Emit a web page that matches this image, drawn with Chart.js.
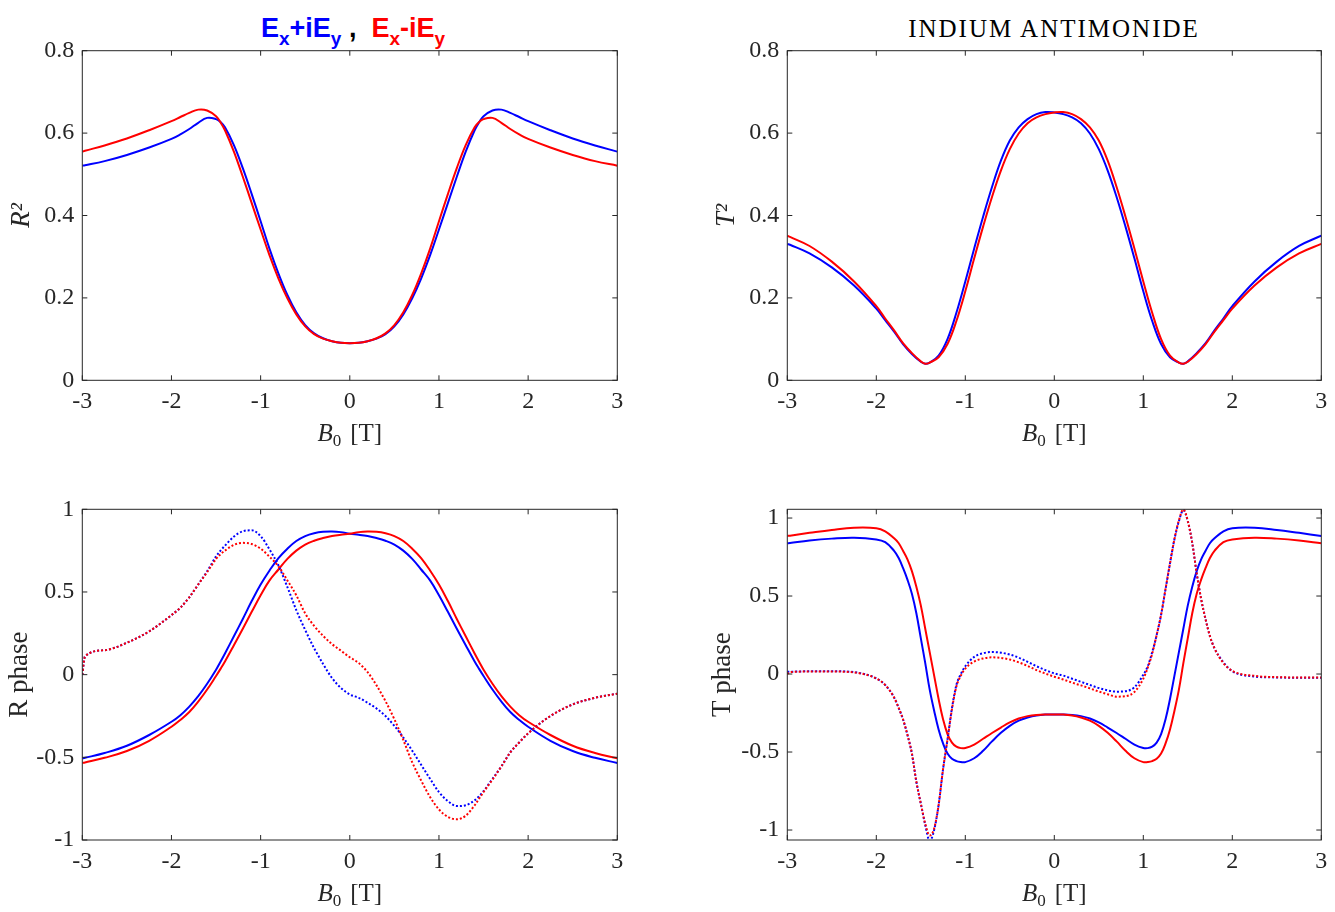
<!DOCTYPE html>
<html>
<head>
<meta charset="utf-8">
<script src="https://cdn.jsdelivr.net/npm/chart.js@4.4.1/dist/chart.umd.min.js"></script>
<style>
  html, body { margin:0; padding:0; background:#ffffff; }
  body { width:1335px; height:912px; position:relative; overflow:hidden; }
  canvas { position:absolute; }
  .ttl { position:absolute; text-align:center; white-space:nowrap; }
  .xt { position:absolute; width:200px; text-align:center; white-space:nowrap;
        font-family:"Liberation Serif", serif; font-size:25px; line-height:25px; color:#262626; }
  .xt sub { font-size:17px; vertical-align:-5px; line-height:0; }
  .xt .sp { display:inline-block; width:9px; }
  #ttlA { left:153px; top:15px; width:400px; font-family:"Liberation Sans", Arial, sans-serif;
          font-weight:bold; font-size:27px; line-height:27px; }
  #ttlA sub { font-size:19px; vertical-align:-8px; line-height:0; }
  #ttlB { left:854px; top:16px; width:400px; font-family:"Liberation Serif", serif;
          font-size:25px; line-height:25px; letter-spacing:2px; color:#000; }
</style>
</head>
<body>
<div id="ttlA" class="ttl"><span style="color:#0000ff">E<sub>x</sub>+iE<sub>y</sub></span><span style="color:#000">&nbsp;,&nbsp;&nbsp;</span><span style="color:#ff0000">E<sub>x</sub>-iE<sub>y</sub></span></div>
<div id="ttlB" class="ttl">INDIUM ANTIMONIDE</div>

<canvas id="cTL" width="667" height="460" style="left:0px;top:0px"></canvas>
<canvas id="cTR" width="630" height="460" style="left:705px;top:0px"></canvas>
<canvas id="cBL" width="667" height="452" style="left:0px;top:460px"></canvas>
<canvas id="cBR" width="630" height="452" style="left:705px;top:460px"></canvas>

<div class="xt" style="left:249.8px;top:420px"><i>B</i><sub>0</sub><span class="sp"></span>[T]</div>
<div class="xt" style="left:954.3px;top:420px"><i>B</i><sub>0</sub><span class="sp"></span>[T]</div>
<div class="xt" style="left:249.8px;top:879.6px"><i>B</i><sub>0</sub><span class="sp"></span>[T]</div>
<div class="xt" style="left:954.3px;top:879.6px"><i>B</i><sub>0</sub><span class="sp"></span>[T]</div>

<script>
// ---------------- DATA ----------------
const X_TICKS = [-3, -2, -1, 0, 1, 2, 3];
const Y_TICKS_SQ = [0, 0.2, 0.4, 0.6, 0.8];
const Y_TICKS_PH = [-1, -0.5, 0, 0.5, 1];

// Magnetic field grid used for R^2, T^2 and R phase
const B_GRID = [-3,-2.97,-2.75,-2.5,-2.25,-2,-1.9,-1.8,-1.7,-1.6,-1.5,-1.45,-1.4,-1.3,-1.2,-1.1,-1,-0.9,-0.8,-0.7,-0.6,-0.5,-0.4,-0.3,-0.2,-0.1,0,0.1,0.2,0.3,0.4,0.5,0.6,0.7,0.8,0.9,1,1.1,1.2,1.3,1.4,1.45,1.5,1.6,1.7,1.8,1.9,2,2.25,2.5,2.75,3];

// R^2  (E_x+iE_y : blue, E_x-iE_y : red)
const R2_PLUS  = [0.521,0.522,0.532,0.547,0.565,0.586,0.597,0.610,0.625,0.637,0.634,0.627,0.614,0.571,0.515,0.452,0.386,0.319,0.259,0.207,0.165,0.134,0.114,0.102,0.095,0.091,0.090,0.091,0.095,0.101,0.112,0.131,0.160,0.199,0.247,0.303,0.366,0.430,0.494,0.555,0.607,0.626,0.641,0.655,0.657,0.649,0.639,0.629,0.607,0.587,0.570,0.555];
const R2_MINUS = [0.555,0.557,0.570,0.587,0.607,0.629,0.639,0.649,0.657,0.655,0.641,0.626,0.607,0.555,0.494,0.430,0.366,0.303,0.247,0.199,0.160,0.131,0.112,0.101,0.095,0.091,0.090,0.091,0.095,0.102,0.114,0.134,0.165,0.207,0.259,0.319,0.386,0.452,0.515,0.571,0.614,0.627,0.634,0.637,0.625,0.610,0.597,0.586,0.565,0.547,0.532,0.521];

// T^2
const T2_PLUS  = [0.331,0.329,0.308,0.274,0.230,0.174,0.146,0.118,0.088,0.064,0.045,0.040,0.043,0.060,0.100,0.164,0.240,0.320,0.397,0.469,0.533,0.582,0.614,0.634,0.646,0.651,0.650,0.646,0.638,0.624,0.599,0.561,0.509,0.445,0.373,0.296,0.216,0.144,0.088,0.056,0.043,0.040,0.046,0.066,0.090,0.121,0.150,0.180,0.240,0.288,0.326,0.351];
const T2_MINUS = [0.351,0.348,0.326,0.288,0.240,0.180,0.150,0.121,0.090,0.066,0.046,0.040,0.043,0.056,0.088,0.144,0.216,0.296,0.373,0.445,0.509,0.561,0.599,0.624,0.638,0.646,0.650,0.651,0.646,0.634,0.614,0.582,0.533,0.469,0.397,0.320,0.240,0.164,0.100,0.060,0.043,0.040,0.045,0.064,0.088,0.118,0.146,0.174,0.230,0.274,0.308,0.331];

// R phase : solid and dotted curves
const RPH_PLUS_SOLID  = [-0.506,-0.503,-0.474,-0.430,-0.365,-0.285,-0.245,-0.193,-0.130,-0.055,0.030,0.078,0.128,0.232,0.337,0.445,0.545,0.630,0.705,0.762,0.808,0.838,0.855,0.864,0.866,0.862,0.852,0.846,0.838,0.826,0.810,0.787,0.750,0.700,0.636,0.570,0.480,0.380,0.278,0.178,0.080,0.035,-0.008,-0.090,-0.163,-0.226,-0.274,-0.315,-0.400,-0.462,-0.503,-0.534];
const RPH_MINUS_SOLID = [-0.534,-0.531,-0.503,-0.462,-0.400,-0.315,-0.274,-0.226,-0.163,-0.090,-0.008,0.035,0.080,0.178,0.278,0.380,0.480,0.570,0.636,0.700,0.750,0.787,0.810,0.826,0.838,0.846,0.852,0.862,0.866,0.864,0.855,0.838,0.808,0.762,0.705,0.630,0.545,0.445,0.337,0.232,0.128,0.078,0.030,-0.055,-0.130,-0.193,-0.245,-0.285,-0.365,-0.430,-0.474,-0.506];
const RPH_PLUS_DOT  = [0,0.11,0.148,0.193,0.262,0.36,0.405,0.468,0.545,0.625,0.715,0.75,0.78,0.835,0.867,0.873,0.838,0.757,0.66,0.53,0.39,0.27,0.16,0.065,-0.02,-0.08,-0.12,-0.14,-0.17,-0.205,-0.25,-0.31,-0.38,-0.46,-0.545,-0.63,-0.71,-0.765,-0.795,-0.79,-0.76,-0.735,-0.705,-0.63,-0.555,-0.47,-0.41,-0.355,-0.25,-0.18,-0.14,-0.115];
const RPH_MINUS_DOT = [0,0.11,0.148,0.193,0.262,0.36,0.405,0.468,0.545,0.62,0.70,0.728,0.75,0.785,0.797,0.79,0.762,0.713,0.655,0.57,0.48,0.37,0.295,0.235,0.185,0.145,0.105,0.07,0.015,-0.065,-0.16,-0.27,-0.395,-0.53,-0.64,-0.74,-0.815,-0.86,-0.875,-0.853,-0.79,-0.75,-0.71,-0.635,-0.555,-0.47,-0.41,-0.355,-0.25,-0.18,-0.14,-0.115];

// Finer field grid for T phase (sharp features near |B| = 1.4)
const B_FINE = [-3,-2.97,-2.75,-2.5,-2.25,-2,-1.9,-1.8,-1.75,-1.7,-1.65,-1.6,-1.55,-1.5,-1.45,-1.4,-1.35,-1.3,-1.25,-1.2,-1.15,-1.1,-1.05,-1,-0.9,-0.8,-0.7,-0.6,-0.5,-0.4,-0.3,-0.2,-0.1,0,0.1,0.2,0.3,0.4,0.5,0.6,0.7,0.8,0.9,1,1.05,1.1,1.15,1.2,1.25,1.3,1.35,1.4,1.45,1.5,1.55,1.6,1.65,1.7,1.75,1.8,1.9,2,2.25,2.5,2.75,3];

const TPH_PLUS_SOLID  = [0.838,0.840,0.856,0.868,0.874,0.863,0.845,0.79,0.745,0.68,0.605,0.515,0.39,0.23,0.07,-0.1,-0.235,-0.355,-0.445,-0.51,-0.543,-0.558,-0.564,-0.565,-0.54,-0.492,-0.432,-0.377,-0.332,-0.299,-0.279,-0.266,-0.26,-0.259,-0.259,-0.262,-0.27,-0.285,-0.31,-0.343,-0.378,-0.415,-0.452,-0.474,-0.475,-0.466,-0.44,-0.385,-0.29,-0.16,-0.01,0.14,0.29,0.44,0.56,0.66,0.735,0.79,0.84,0.87,0.915,0.935,0.938,0.924,0.905,0.885];
const TPH_MINUS_SOLID = [0.885,0.887,0.905,0.924,0.938,0.935,0.915,0.87,0.84,0.79,0.735,0.66,0.56,0.44,0.29,0.14,-0.01,-0.16,-0.29,-0.385,-0.44,-0.466,-0.475,-0.474,-0.452,-0.415,-0.378,-0.343,-0.31,-0.285,-0.27,-0.262,-0.259,-0.259,-0.26,-0.266,-0.279,-0.299,-0.332,-0.377,-0.432,-0.492,-0.54,-0.565,-0.564,-0.558,-0.543,-0.51,-0.445,-0.355,-0.235,-0.1,0.07,0.23,0.39,0.515,0.605,0.68,0.745,0.79,0.845,0.863,0.874,0.868,0.856,0.838];
const TPH_PLUS_DOT  = [0.015,0.015,0.018,0.018,0.012,-0.028,-0.07,-0.15,-0.215,-0.29,-0.39,-0.51,-0.69,-0.83,-0.968,-1.07,-1.0,-0.84,-0.61,-0.42,-0.22,-0.07,0.0,0.05,0.11,0.133,0.141,0.137,0.125,0.105,0.078,0.05,0.025,0.004,-0.01,-0.03,-0.05,-0.07,-0.09,-0.105,-0.113,-0.11,-0.085,-0.005,0.05,0.14,0.25,0.38,0.545,0.71,0.865,0.98,1.05,0.98,0.84,0.645,0.48,0.35,0.24,0.165,0.075,0.018,-0.016,-0.022,-0.024,-0.024];
const TPH_MINUS_DOT = [0.0,0.012,0.016,0.016,0.01,-0.028,-0.07,-0.15,-0.215,-0.29,-0.39,-0.51,-0.69,-0.83,-0.96,-1.035,-0.99,-0.84,-0.61,-0.42,-0.225,-0.08,-0.01,0.035,0.08,0.1,0.107,0.103,0.093,0.075,0.052,0.025,0.003,-0.017,-0.035,-0.055,-0.073,-0.092,-0.112,-0.13,-0.145,-0.142,-0.115,-0.03,0.04,0.13,0.25,0.38,0.545,0.71,0.865,0.985,1.055,0.98,0.84,0.645,0.48,0.35,0.24,0.165,0.07,0.02,-0.012,-0.02,-0.022,-0.022];

// ---------------- STYLE / LAYOUT ----------------
const BLUE = '#0000ff', RED = '#ff0000', AXIS = '#262626';
const SERIF = "'Liberation Serif', 'Times New Roman', serif";
const SOLID = [], DOTTED = [2, 2];

const framePlugin = {
  id: 'frame',
  afterDraw(chart) {
    const { ctx, chartArea: a, scales: { x, y } } = chart;
    const L = 5;
    ctx.save();
    ctx.strokeStyle = AXIS;
    ctx.lineWidth = 1;
    ctx.strokeRect(a.left, a.top, a.right - a.left, a.bottom - a.top);
    ctx.beginPath();
    x.ticks.forEach(t => {
      const px = x.getPixelForValue(t.value);
      ctx.moveTo(px, a.bottom); ctx.lineTo(px, a.bottom - L);
      ctx.moveTo(px, a.top); ctx.lineTo(px, a.top + L);
    });
    y.ticks.forEach(t => {
      const py = y.getPixelForValue(t.value);
      ctx.moveTo(a.left, py); ctx.lineTo(a.left + L, py);
      ctx.moveTo(a.right, py); ctx.lineTo(a.right - L, py);
    });
    ctx.stroke();
    ctx.restore();
  }
};

function makePanel(id, geom, xs, series, yMin, yMax, yTicks, yTitle) {
  const canvas = document.getElementById(id);
  return new Chart(canvas, {
    type: 'line',
    data: {
      datasets: series.map(s => ({
        label: s.label,
        data: xs.map((b, i) => ({ x: b, y: s.values[i] })),
        borderColor: s.color,
        borderWidth: 2,
        borderDash: s.dash,
        pointRadius: 0,
        fill: false,
        cubicInterpolationMode: s.smooth ? 'default' : 'monotone',
        tension: s.smooth ? 0.4 : 0
      }))
    },
    options: {
      responsive: false,
      animation: false,
      events: [],
      layout: { padding: { left: 0, top: geom.top, right: geom.w - geom.right, bottom: 0 } },
      plugins: { legend: { display: false }, tooltip: { enabled: false }, title: { display: false } },
      scales: {
        x: {
          type: 'linear', min: -3, max: 3,
          grid: { display: false, drawTicks: false },
          border: { display: false },
          afterBuildTicks: s => { s.ticks = X_TICKS.map(v => ({ value: v })); },
          afterFit: s => { s.height = geom.h - geom.bottom; },
          ticks: { font: { family: SERIF, size: 24 }, color: AXIS, padding: 7,
                   maxRotation: 0, autoSkip: false, callback: v => String(v) }
        },
        y: {
          type: 'linear', min: yMin, max: yMax,
          grid: { display: false, drawTicks: false },
          border: { display: false },
          afterBuildTicks: s => { s.ticks = yTicks.map(v => ({ value: v })); },
          afterFit: s => { s.width = geom.left; },
          ticks: { font: { family: SERIF, size: 24 }, color: AXIS, padding: 8,
                   autoSkip: false, callback: v => String(v) },
          title: { display: true, text: yTitle.text, color: AXIS,
                   font: { family: SERIF, size: 27, style: yTitle.italic ? 'italic' : 'normal' },
                   padding: { top: geom.titlePad, bottom: 0 } }
        }
      }
    },
    plugins: [framePlugin]
  });
}

const G_TL = { w: 667, h: 460, left: 82.3, top: 50.7, right: 617.3, bottom: 380.3, titlePad: 6 };
const G_TR = { w: 630, h: 460, left: 82.3, top: 50.7, right: 616.3, bottom: 380.3, titlePad: 6 };
const G_BL = { w: 667, h: 452, left: 82.3, top: 49.3, right: 617.3, bottom: 380, titlePad: 4 };
const G_BR = { w: 630, h: 452, left: 82.3, top: 49.3, right: 616.3, bottom: 380, titlePad: 2 };

makePanel('cTL', G_TL, B_GRID, [
  { label: 'Ex-iEy', values: R2_MINUS, color: RED, dash: SOLID, smooth: true },
  { label: 'Ex+iEy', values: R2_PLUS, color: BLUE, dash: SOLID, smooth: true }
], 0, 0.8, Y_TICKS_SQ, { text: 'R²', italic: true });

makePanel('cTR', G_TR, B_GRID, [
  { label: 'Ex-iEy', values: T2_MINUS, color: RED, dash: SOLID, smooth: true },
  { label: 'Ex+iEy', values: T2_PLUS, color: BLUE, dash: SOLID, smooth: true }
], 0, 0.8, Y_TICKS_SQ, { text: 'T²', italic: true });

makePanel('cBL', G_BL, B_GRID, [
  { label: 'Ex-iEy dotted', values: RPH_MINUS_DOT, color: RED, dash: DOTTED, smooth: false },
  { label: 'Ex+iEy dotted', values: RPH_PLUS_DOT, color: BLUE, dash: DOTTED, smooth: false },
  { label: 'Ex-iEy', values: RPH_MINUS_SOLID, color: RED, dash: SOLID, smooth: true },
  { label: 'Ex+iEy', values: RPH_PLUS_SOLID, color: BLUE, dash: SOLID, smooth: true }
], -1, 1, Y_TICKS_PH, { text: 'R phase', italic: false });

makePanel('cBR', G_BR, B_FINE, [
  { label: 'Ex-iEy dotted', values: TPH_MINUS_DOT, color: RED, dash: DOTTED, smooth: false },
  { label: 'Ex+iEy dotted', values: TPH_PLUS_DOT, color: BLUE, dash: DOTTED, smooth: false },
  { label: 'Ex-iEy', values: TPH_MINUS_SOLID, color: RED, dash: SOLID, smooth: true },
  { label: 'Ex+iEy', values: TPH_PLUS_SOLID, color: BLUE, dash: SOLID, smooth: true }
], -1.064, 1.056, Y_TICKS_PH, { text: 'T phase', italic: false });
</script>
</body>
</html>
